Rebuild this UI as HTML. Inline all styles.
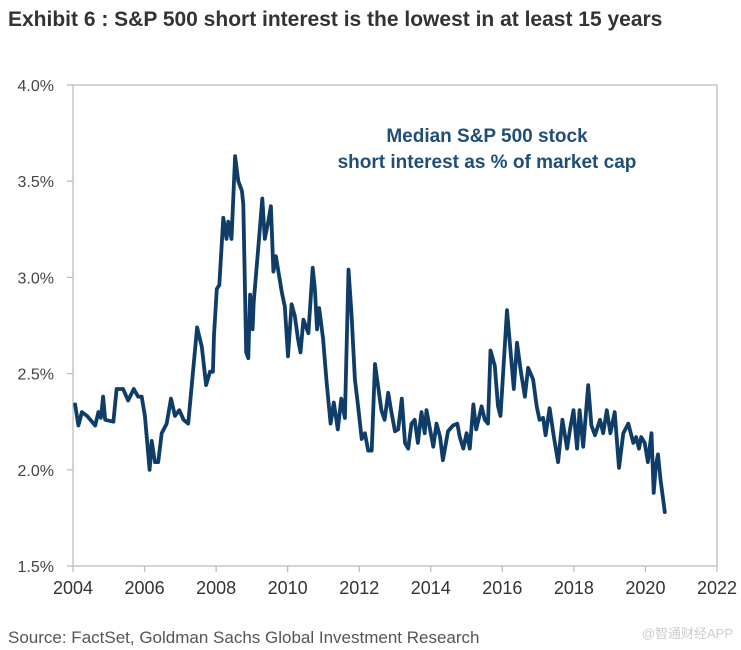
<!DOCTYPE html>
<html><head><meta charset="utf-8"><style>
html,body{margin:0;padding:0;background:#fff;width:741px;height:650px;overflow:hidden}
svg{display:block}
</style></head><body>
<svg id="chart" width="741" height="650" xmlns="http://www.w3.org/2000/svg">
<text x="8" y="26" font-family="'Liberation Sans Narrow','Liberation Sans',sans-serif" font-weight="bold" font-size="21" fill="#333">Exhibit 6 : S&amp;P 500 short interest is the lowest in at least 15 years</text>
<rect x="73" y="85" width="644" height="481" fill="none" stroke="#bdbdbd" stroke-width="1.3"/>
<g id="yaxis"></g>
<g id="xaxis"></g>
<text x="487" y="142" text-anchor="middle" font-family="'Liberation Sans',sans-serif" font-weight="bold" font-size="19" fill="#1f4e79">Median  S&amp;P 500 stock</text>
<text x="487" y="168" text-anchor="middle" font-family="'Liberation Sans',sans-serif" font-weight="bold" font-size="19" fill="#1f4e79">short interest as % of market cap</text>
<path id="series" fill="none" stroke="#0f3d67" stroke-width="3.8" stroke-linejoin="round" stroke-linecap="round"/>
<text x="8" y="643" font-family="'Liberation Sans Narrow','Liberation Sans',sans-serif" font-size="17" fill="#555">Source: FactSet, Goldman Sachs Global Investment Research</text>
<text x="733" y="638" text-anchor="end" font-family="'Liberation Sans','Noto Sans CJK SC',sans-serif" font-size="13" fill="#ccc">@智通财经APP</text>
</svg>
<script>
const years=[2004.06,2004.15,2004.25,2004.39,2004.53,2004.62,2004.71,2004.78,2004.84,2004.90,2005.13,2005.22,2005.40,2005.54,2005.70,2005.82,2005.92,2006.01,2006.14,2006.20,2006.29,2006.38,2006.48,2006.62,2006.74,2006.85,2006.97,2007.09,2007.22,2007.47,2007.60,2007.72,2007.83,2007.91,2007.94,2008.02,2008.09,2008.20,2008.29,2008.34,2008.43,2008.53,2008.62,2008.72,2008.76,2008.84,2008.90,2008.95,2009.02,2009.05,2009.22,2009.29,2009.36,2009.46,2009.53,2009.60,2009.67,2009.74,2009.84,2009.92,2010.01,2010.11,2010.20,2010.29,2010.36,2010.44,2010.58,2010.70,2010.76,2010.82,2010.88,2010.99,2011.09,2011.20,2011.29,2011.40,2011.50,2011.60,2011.70,2011.78,2011.88,2011.97,2012.07,2012.16,2012.25,2012.35,
2012.44,2012.53,2012.62,2012.71,2012.81,2012.90,2013.00,2013.09,2013.19,2013.28,2013.37,2013.46,2013.55,2013.64,2013.74,2013.83,2013.88,2013.97,2014.07,2014.16,2014.26,2014.34,2014.48,2014.62,2014.74,2014.81,2014.91,2015.00,2015.09,2015.19,2015.27,2015.42,2015.51,2015.60,2015.67,2015.79,2015.88,2015.95,2016.13,2016.20,2016.32,2016.41,2016.51,2016.63,2016.72,2016.86,2016.96,2017.04,2017.14,2017.21,2017.32,2017.44,2017.56,2017.68,2017.81,2017.89,2017.99,2018.09,2018.16,2018.26,2018.40,2018.49,2018.59,2018.73,2018.82,2018.92,2019.02,2019.14,2019.26,2019.38,2019.52,2019.66,2019.74,2019.82,2019.88,2019.98,2020.07,2020.17,2020.23,2020.29,2020.35,2020.42,2020.54];
const values=[2.34,2.23,2.30,2.28,2.25,2.23,2.30,2.27,2.38,2.26,2.25,2.42,2.42,2.36,2.42,2.38,2.38,2.28,2.00,2.15,2.04,2.04,2.19,2.24,2.37,2.28,2.31,2.26,2.24,2.74,2.64,2.44,2.51,2.51,2.70,2.94,2.96,3.31,3.20,3.29,3.20,3.63,3.50,3.45,3.38,2.61,2.58,2.91,2.73,2.87,3.25,3.41,3.20,3.29,3.37,3.03,3.11,3.03,2.92,2.85,2.59,2.86,2.80,2.68,2.61,2.78,2.71,3.05,2.94,2.73,2.84,2.68,2.45,2.24,2.35,2.21,2.37,2.27,3.04,2.82,2.47,2.33,2.16,2.19,2.10,2.10,
2.55,2.43,2.31,2.26,2.40,2.30,2.20,2.21,2.37,2.14,2.11,2.24,2.26,2.14,2.30,2.19,2.31,2.22,2.12,2.24,2.17,2.05,2.20,2.23,2.24,2.17,2.11,2.19,2.11,2.34,2.21,2.33,2.26,2.24,2.62,2.54,2.33,2.28,2.83,2.68,2.42,2.66,2.52,2.38,2.53,2.47,2.33,2.26,2.27,2.18,2.32,2.17,2.04,2.26,2.11,2.21,2.31,2.11,2.31,2.12,2.44,2.23,2.18,2.26,2.19,2.31,2.19,2.30,2.01,2.19,2.24,2.14,2.17,2.11,2.17,2.14,2.04,2.19,1.88,2.02,2.08,1.95,1.78];
const xTicks=[2004,2006,2008,2010,2012,2014,2016,2018,2020,2022];
const yTicks=[1.5,2.0,2.5,3.0,3.5,4.0];
const yTickLabels=["1.5%","2.0%","2.5%","3.0%","3.5%","4.0%"];
const X0=73,X1=717,Y0=566,Y1=85;
function sx(v){return X0+(v-2004)/(2022-2004)*(X1-X0);}
function sy(v){return Y0-(v-1.5)/(4.0-1.5)*(Y0-Y1);}
const NS="http://www.w3.org/2000/svg";
const ya=document.getElementById('yaxis'),xa=document.getElementById('xaxis');
yTicks.forEach((t,i)=>{
 const ln=document.createElementNS(NS,'line');
 ln.setAttribute('x1',X0-6);ln.setAttribute('x2',X0);ln.setAttribute('y1',sy(t));ln.setAttribute('y2',sy(t));
 ln.setAttribute('stroke','#bdbdbd');ln.setAttribute('stroke-width','1.3');
 
 
 ya.appendChild(ln);
 const tx=document.createElementNS(NS,'text');
 tx.setAttribute('x',X0-19);tx.setAttribute('y',sy(t)+6);tx.setAttribute('text-anchor','end');
 tx.setAttribute('font-family',"'Liberation Sans',sans-serif");tx.setAttribute('font-size','16');tx.setAttribute('fill','#444');
 tx.textContent=yTickLabels[i];
 
 
 ya.appendChild(tx);
});
xTicks.forEach(t=>{
 const ln=document.createElementNS(NS,'line');
 ln.setAttribute('x1',sx(t));ln.setAttribute('x2',sx(t));ln.setAttribute('y1',Y0);ln.setAttribute('y2',Y0+6);
 ln.setAttribute('stroke','#bdbdbd');ln.setAttribute('stroke-width','1.3');
 
 
 xa.appendChild(ln);
 const tx=document.createElementNS(NS,'text');
 tx.setAttribute('x',sx(t));tx.setAttribute('y',Y0+28);tx.setAttribute('text-anchor','middle');
 tx.setAttribute('font-family',"'Liberation Sans Narrow','Liberation Sans',sans-serif");tx.setAttribute('font-size','18');tx.setAttribute('fill','#333');
 tx.textContent=String(t);
 
 
 xa.appendChild(tx);
});
let d='';
years.forEach((y,i)=>{d+=(i?'L':'M')+sx(y).toFixed(1)+','+sy(values[i]).toFixed(1);});
document.getElementById('series').setAttribute('d',d);
</script>
</body></html>
